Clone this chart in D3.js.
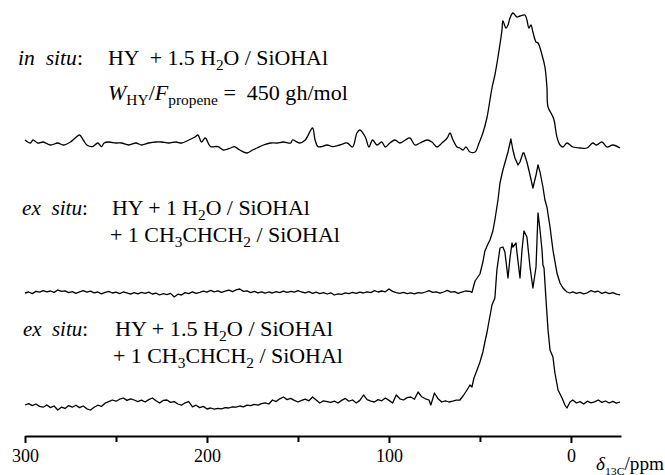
<!DOCTYPE html>
<html>
<head>
<meta charset="utf-8">
<script src="https://cdn.jsdelivr.net/npm/d3@7"></script>
<style>
  body { margin: 0; background: #fff; }
  svg text { font-family: "Liberation Serif", "DejaVu Serif", serif; fill: #000; white-space: pre; }
</style>
</head>
<body>
<div class="chart"></div>
<script>
// 13C MAS NMR spectra, three samples stacked

var svgWidth = 665;
var svgHeight = 475;

// x axis ticks (ppm)
var majorTicks = [300, 200, 100, 0];
var minorTicks = [250, 150, 50];

// vertical offsets of each trace (intensity units)
var offsets = [145, 71.5, 17];

// in situ: HY + 1.5 H2O / SiOHAl   [ppm, intensity]
var inSitu = [
  [300,3],[297,1.5],[295.6,3],[293,1.5],[290,2],[286,0.5],[282,1.5],[279,0.5],[275,2],[272.5,4],
  [270,5.5],[268,3],[266,0.5],[263,-0.3],[260,1.5],[258,-0.3],[256.5,1.5],[254,2],[250,1.5],[247,1.5],
  [243,0.5],[239,1.5],[236,0.5],[232,1.5],[228,2],[225,2],[221,1.5],[217,2],[214,1.5],[210,3],
  [206.6,4.5],[205,5.5],[203,2],[201,4],[198,-0.3],[194,-0.3],[191,-2],[187,-1],[185,-0.3],[182,-2],
  [178,-3.5],[175,-2],[172.5,-1],[169,0.5],[165,1.5],[161.5,1.5],[158,2],[154,1.5],[153,3],[149,1.5],
  [146,3],[142,9],[140.6,3],[139,-0.3],[137,-0.3],[134,0.5],[131,-0.3],[127,0.5],[123,1.5],[120,-0.5],
  [117.6,6.5],[116,8],[113,4.5],[111,-0.5],[109,3],[106.6,0.5],[104,2],[102,-0.5],[99.5,1.5],[96.7,3],
  [94,1.5],[91,3],[88.5,4],[85.7,0.5],[83,1.5],[79,3],[76.4,2],[73.6,-0.5],[70.9,1.5],[68,4],
  [66.5,6.5],[64.8,3],[62.6,-0.5],[61,-1],[59.3,-2],[57.7,-0.5],[55.5,-3],[52.7,-3],[50.5,1.5],[48.4,6.5],
  [46.2,14],[44.5,23],[43.4,29],[41.8,35.5],[40.1,44.5],[37.9,58],[37.4,62.5],[35.7,59],[34.6,60.5],[33.5,64],
  [31.9,66.5],[29.7,64.5],[28,65],[25.3,65.5],[24.2,63],[23.1,59],[22,60.5],[20.9,57],[19.2,52],[18.1,51.5],
  [15.9,45.5],[14.3,39.5],[13.2,29.5],[12.6,19.5],[10.4,15.5],[9.3,13],[7.7,4.5],[6,0.5],[4.4,-0.5],[2.2,1.5],
  [-1.1,-0.5],[-5,-1],[-8.8,-1],[-12,1.5],[-14,0.5],[-17,2],[-19.8,-0.5],[-23,0.5],[-27,-1]
];

// ex situ: HY + 1 H2O / SiOHAl + 1 propene
var exSitu1 = [
  [300,0],[298,0.5],[296,-0.3],[294,0.8],[292,0.4],[290,1.2],[288,0.6],[286,1.0],[284,0.3],[282,1.5],
  [280,0.8],[278,1.1],[276,0.2],[274,0.7],[272,-0.2],[270,0.6],[268,1.2],[266,0.4],[264,0.9],[262,0.1],
  [260,0.5],[258,-0.4],[256,0.3],[254,0.8],[252,0],[250,0.4],[248,-0.3],[246,0.5],[244,0.1],[242,-0.6],
  [240,0.2],[238,-0.4],[236,0.3],[234,-0.2],[232,0.4],[230,-0.5],[228,-0.1],[226,-1.0],[224,-0.3],[222,-0.8],
  [220,-0.2],[218,-2.0],[216,-0.6],[214,-1.0],[212,0.2],[210,-0.3],[208,0.6],[206,-0.2],[204,0.3],[202,0.9],
  [200,0.4],[198,1.3],[196,0.6],[194,1.1],[192,0.3],[190,0.9],[188,1.4],[186,0.7],[184,1.6],[182,2.0],
  [180,0.8],[178,1.1],[176,0.2],[174,0.8],[172,0.1],[170,0.6],[168,-0.1],[166,0.5],[164,0],[162,0.7],
  [160,0.2],[158,0.9],[156,0.3],[154,0.8],[152,0.4],[150,1.2],[148,0.5],[146,0.1],[144,0.7],[142,-0.2],
  [140,0.4],[138,-0.3],[136,0.2],[134,-0.5],[132,0.1],[130,-1.0],[128,-0.4],[126,-0.7],[124,0.1],[122,-0.3],
  [120,0.3],[118,-0.2],[116,0.4],[114,0],[112,0.6],[110,0.2],[108,1.2],[106,0.5],[104,1.0],[102,0.6],
  [100,2.0],[98,0.8],[96,0.2],[94,-0.2],[92,0.3],[90,-0.3],[88,0.1],[86,-0.4],[84,0.2],[82,-0.1],
  [80,0.5],[78,1.2],[76,0.3],[74,0.6],[72,-0.1],[70,0.5],[68,1.3],[66,0.4],[64,0.7],[62,-0.2],
  [60,0.4],[58,1.0],[56,0.8],[55.5,0.8],[54.4,0.3],[52.7,6],[50,9.5],[48.4,15.5],[47.3,21],[45.6,24.5],
  [44.5,26.5],[42.9,31],[41.8,36.5],[40.1,46.5],[39,55],[37.4,61.5],[36,66],[34.6,70.5],[33,77],[31.9,71.5],
  [30.8,67.5],[29.1,64],[28,65.5],[26.4,70],[25.8,70],[24.2,65.5],[22.5,59],[20.9,52.5],[19.2,59],[18.1,64],
  [17,60.5],[15.4,53],[14.3,46.5],[13.2,43],[11.5,33],[9.9,21.5],[7.7,10],[6,5],[4.4,2.5],[2.2,0.5],
  [0.5,0],[-1,0.6],[-3,-0.2],[-5,0.3],[-7,-0.4],[-9,0.1],[-11,1.2],[-13,0.5],[-15,0.9],[-17,-0.2],
  [-19,0.4],[-21,-0.3],[-23,0.2],[-25,-0.6],[-27,-0.9]
];

// ex situ: HY + 1.5 H2O / SiOHAl + 1 propene
var exSitu2 = [
  [300,-1.5],[298,-0.8],[296,-1.8],[294,-1.0],[292,-2.2],[290,-2.6],[288,-1.5],[286,-2.8],[284,-2.0],[282,-4.0],
  [280,-2.6],[278,-3.2],[276,-1.8],[274,-2.6],[272,-1.6],[270,-2.8],[268,-2.0],[266,-3.4],[264,-4.0],[262,-2.6],
  [260,-1.6],[258,-2.2],[256,-0.6],[254,0.2],[252,1.0],[250,0.4],[248,1.4],[246,2.0],[244,0.8],[242,1.6],
  [240,1.0],[238,0.2],[236,0.9],[234,0],[232,1.2],[230,2.0],[228,0.6],[226,-0.5],[224,0.8],[222,1.0],
  [220,-0.2],[218,0.2],[216,-1.0],[214,-1.6],[212,-0.4],[210,0.2],[208,-2.4],[206,-1.6],[204,-2.8],[202,-2.2],
  [200,-3.5],[198,-3.0],[196,-3.6],[194,-3.2],[192,-3.4],[190,-2.8],[188,-3.0],[186,-2.4],[184,-2.6],[182,-2.0],
  [180,-2.4],[178,-1.6],[176,-1.8],[174,-1.2],[172,-1.6],[170,-0.8],[168,-0.4],[166,-1.0],[164,1.0],[162,0.2],
  [160,1.6],[158,2.5],[156,1.2],[154,1.8],[152,0.8],[150,0],[148,0.8],[146,1.4],[144,0.6],[142,2.5],
  [140,1.0],[138,-0.5],[136,0.6],[134,0.2],[132,-0.2],[130,0.4],[128,-0.5],[126,0.8],[124,1.8],[122,0.4],
  [120,1.0],[118,-0.5],[116,0.8],[114,3.5],[112,1.2],[110,0.4],[108,0],[106,1.2],[104,0.6],[102,2.0],
  [100,0.8],[98,-0.5],[96,3.5],[94,1.6],[92,1.0],[90,2.2],[88,2.5],[86,1.4],[84,5.0],[82,2.6],
  [80,1.6],[78,1.0],[77,-1.5],[75,4.5],[73,1.6],[71,0],[69,0.6],[67,0],[65,0.4],[63,0.9],
  [61,1.0],[59.3,3],[57.1,6],[55.5,8.5],[54.4,7.5],[53.3,12],[51.6,16],[50,20],[48.4,25],[47.3,30],
  [46.2,34.5],[45.1,40],[43.4,48.5],[41.8,52],[40.7,66],[39,77],[37.4,77.5],[36.3,75],[34.6,62],[33.5,72],
  [32.4,79.5],[31.9,77.5],[30.2,79.5],[29.7,75],[28,62],[26.9,76],[25.8,85.5],[24.2,82.5],[22.5,67.5],[20.9,57],
  [19.2,67.5],[18.1,94.5],[17,86],[15.9,76],[15.4,68.5],[14.8,67],[13.7,51],[12.6,36],[11.5,26],[9.9,22.5],
  [8.8,14.5],[7.1,6],[4.9,2],[3.3,-1.5],[2.2,-3],[0.5,0],[-1,1.0],[-3,-0.5],[-5,0.2],[-7,-1.0],
  [-9,0.4],[-11,-0.4],[-13,0.1],[-15,1.0],[-17,-0.2],[-19,0.5],[-21,-0.5],[-23,0.3],[-25,-0.6],[-27,0]
];

var traces = [inSitu, exSitu1, exSitu2];

var svg = d3.select(".chart")
  .append("svg")
  .attr("width", svgWidth)
  .attr("height", svgHeight);

// ppm axis runs right to left
var xScale = d3.scaleLinear()
  .domain([300, -27.5])
  .range([25, 621]);

var yScale = d3.scaleLinear()
  .domain([0, 218])
  .range([436, 0]);

// spectra
traces.forEach(function(trace, i) {
  var line = d3.line()
    .x(d => xScale(d[0]))
    .y(d => yScale(offsets[i] + d[1]))
    .curve(i === 0 ? d3.curveCatmullRom.alpha(0.5) : d3.curveLinear);

  svg.append("path")
    .datum(trace)
    .attr("d", line)
    .attr("fill", "none")
    .attr("stroke", "#000")
    .attr("stroke-width", 1.3)
    .attr("stroke-linejoin", "round");
});

// axis
var axisY = yScale(0);

var majorAxis = d3.axisBottom(xScale)
  .tickValues(majorTicks)
  .tickFormat(d3.format("d"))
  .tickSize(7)
  .tickSizeOuter(0)
  .tickPadding(6);

var minorAxis = d3.axisBottom(xScale)
  .tickValues(minorTicks)
  .tickFormat("")
  .tickSize(6)
  .tickSizeOuter(0);

var gMajor = svg.append("g")
  .attr("transform", `translate(0, ${axisY})`)
  .call(majorAxis)
  .attr("font-family", null);

svg.append("g")
  .attr("transform", `translate(0, ${axisY})`)
  .call(minorAxis)
  .select(".domain").remove();

gMajor.select(".domain").attr("stroke-width", 2.2);
svg.selectAll(".tick line").attr("stroke-width", 2);
gMajor.selectAll(".tick text")
  .attr("font-family", "Liberation Serif")
  .style("font-size", "18px");

// stretch a text horizontally so it spans the given width (the scan is wide-set)
function fitWidth(t, x, w) {
  var cur = t.node().getComputedTextLength();
  if (cur > 0) {
    t.attr("transform", `translate(${x},0) scale(${w / cur},1) translate(${-x},0)`);
  }
}

// axis title
var axisTitle = svg.append("text")
  .attr("x", 596)
  .attr("y", 470)
  .style("font-size", "18px");
axisTitle.append("tspan").style("font-style", "italic").text("δ");
axisTitle.append("tspan").attr("dy", 5).style("font-size", "11px").text("13C");
axisTitle.append("tspan").attr("dy", -5).text("/ppm");
fitWidth(axisTitle, 596, 68);

// sample labels
function addText(x, y, w, parts) {
  var t = svg.append("text")
    .attr("x", x)
    .attr("y", y)
    .style("font-size", "20px");
  var shift = 0;
  parts.forEach(function(p) {
    var target = p.sub ? 5 : 0;
    var ts = t.append("tspan")
      .attr("dy", target - shift)
      .text(p.t);
    shift = target;
    if (p.sub) ts.style("font-size", "14px");
    if (p.it) ts.style("font-style", "italic");
  });
  fitWidth(t, x, w);
}

addText(18, 65, 65, [{t: "in  situ", it: true}, {t: ":"}]);
addText(108, 65, 220, [{t: "HY  + 1.5 H"}, {t: "2", sub: true}, {t: "O / SiOHAl"}]);
addText(108, 100, 240, [{t: "W", it: true}, {t: "HY", sub: true}, {t: "/"}, {t: "F", it: true},
  {t: "propene", sub: true}, {t: " =  450 gh/mol"}]);

addText(22, 215, 66, [{t: "ex  situ", it: true}, {t: ":"}]);
addText(112, 215, 198, [{t: "HY + 1 H"}, {t: "2", sub: true}, {t: "O / SiOHAl"}]);
addText(110, 242, 230, [{t: "+ 1 CH"}, {t: "3", sub: true}, {t: "CHCH"}, {t: "2", sub: true}, {t: " / SiOHAl"}]);

addText(23, 336, 65, [{t: "ex  situ", it: true}, {t: ":"}]);
addText(115, 336, 218, [{t: "HY + 1.5 H"}, {t: "2", sub: true}, {t: "O / SiOHAl"}]);
addText(113, 363, 230, [{t: "+ 1 CH"}, {t: "3", sub: true}, {t: "CHCH"}, {t: "2", sub: true}, {t: " / SiOHAl"}]);
</script>
</body>
</html>
